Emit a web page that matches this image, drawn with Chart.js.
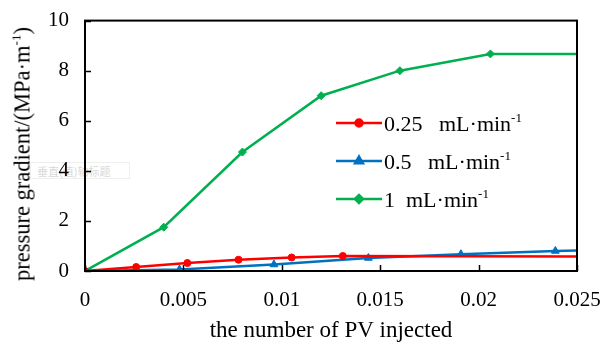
<!DOCTYPE html>
<html>
<head>
<meta charset="utf-8">
<script src="https://cdn.jsdelivr.net/npm/chart.js@4"></script>
<style>
    body { margin: 0; background: #fff; }
    #wrap { position: relative; width: 610px; height: 343px; font-family: "Liberation Serif", "Times New Roman", serif; }
    #chart { position: absolute; left: 0; top: 0; }
    .ghost { position: absolute; left: 30px; top: 162px; width: 100px; height: 17px; border: 1px solid #eee;
        color: #d8d8d8; font: 11px "Noto Sans CJK SC", sans-serif; line-height: 17px; padding-left: 6px; box-sizing: border-box; }
    .ytitle { position: absolute; left: 22px; top: 154px; transform: translate(-50%, -50%) rotate(-90deg);
        font-size: 22.5px; white-space: nowrap; color: #000; }
    .legend { position: absolute; left: 336px; top: 104px; font-size: 22px; color: #000; }
    .legend .row { height: 38px; display: flex; align-items: center; white-space: pre; }
    .legend .sw { width: 46px; height: 14px; position: relative; margin-right: 2px; }
    sup { font-size: 13px; vertical-align: 9px; }
</style>
</head>
<body>
<div id="wrap">
    <div class="ghost">垂直(值)轴标题</div>
    <canvas id="chart" width="610" height="343"></canvas>
    <div class="ytitle">pressure gradient/(MPa·m<sup>-1</sup>)</div>
    <div class="legend" id="legend"></div>
</div>
<script>
const seriesLabels = ["0.25   mL·min", "0.5   mL·min", "1  mL·min"];
const seriesColors = ["#ff0000", "#0070c0", "#00b050"];
const seriesMarkers = ["circle", "triangle", "rectRot"];
const markerSizes = [3.5, 4.5, 4];

const pvRed = [0, 0.0026, 0.0052, 0.0078, 0.0105, 0.0131, 0.025];
const gradRed = [0, 0.16, 0.32, 0.45, 0.54, 0.6, 0.58];

const pvBlue = [0, 0.0048, 0.0096, 0.0144, 0.0191, 0.0239, 0.025];
const gradBlue = [0, 0.06, 0.26, 0.52, 0.67, 0.8, 0.82];

const pvGreen = [0, 0.004, 0.008, 0.012, 0.016, 0.0206, 0.025];
const gradGreen = [0, 1.75, 4.75, 7.0, 8.0, 8.67, 8.67];

const xTicks = [0, 0.005, 0.01, 0.015, 0.02, 0.025];
const yTicks = [0, 2, 4, 6, 8, 10];

const xs = [pvRed, pvBlue, pvGreen];
const ys = [gradRed, gradBlue, gradGreen];

const FONT = "Liberation Serif";

// last point only continues the line to the axis edge, no marker
const datasets = seriesLabels.map((label, i) => ({
    label,
    data: xs[i].map((x, k) => ({ x, y: ys[i][k] })),
    borderColor: seriesColors[i],
    backgroundColor: seriesColors[i],
    borderWidth: 2.5,
    pointStyle: seriesMarkers[i],
    pointBorderWidth: 1,
    pointRadius: xs[i].map((x, k) => (k === xs[i].length - 1 ? 0 : markerSizes[i])),
    tension: 0,
}));

const frame = {
    id: "frame",
    afterDraw(chart) {
        const { ctx, chartArea: a, scales } = chart;
        ctx.save();
        ctx.strokeStyle = "#000";
        ctx.lineWidth = 2;
        ctx.strokeRect(a.left, a.top, a.right - a.left, a.bottom - a.top);
        ctx.lineWidth = 1.5;
        ctx.beginPath();
        for (const v of xTicks) {
            const px = Math.round(scales.x.getPixelForValue(v)) + 0.5;
            ctx.moveTo(px, a.bottom);
            ctx.lineTo(px, a.bottom - 6);
        }
        for (const v of yTicks) {
            const py = Math.round(scales.y.getPixelForValue(v)) + 0.5;
            ctx.moveTo(a.left, py);
            ctx.lineTo(a.left + 6, py);
        }
        ctx.stroke();
        ctx.restore();
    },
};

new Chart(document.getElementById("chart"), {
    type: "line",
    data: { datasets },
    options: {
        responsive: false,
        animation: false,
        layout: { padding: { top: 17, right: 33, left: 0, bottom: 0 } },
        plugins: { legend: { display: false }, tooltip: { enabled: false } },
        scales: {
            x: {
                type: "linear",
                min: 0,
                max: 0.025,
                afterBuildTicks: (s) => { s.ticks = xTicks.map((value) => ({ value })); },
                afterFit: (s) => { s.height = 72; },
                grid: { display: false },
                border: { display: false },
                ticks: {
                    color: "#000",
                    font: { family: FONT, size: 21 },
                    padding: 9,
                    maxRotation: 0,
                    callback: (v) => String(+v.toFixed(3)),
                },
                title: {
                    display: true,
                    text: "the number of PV injected",
                    color: "#000",
                    font: { family: FONT, size: 23 },
                    padding: { top: 4, bottom: -2 },
                },
            },
            y: {
                min: 0,
                max: 10,
                afterBuildTicks: (s) => { s.ticks = yTicks.map((value) => ({ value })); },
                afterFit: (s) => { s.width = 85; },
                grid: { display: false },
                border: { display: false },
                ticks: {
                    color: "#000",
                    font: { family: FONT, size: 21 },
                    padding: 8,
                },
            },
        },
    },
    plugins: [frame],
});

// legend: line with marker, then label with superscript
const legendEl = document.getElementById("legend");
seriesLabels.forEach((label, i) => {
    const row = document.createElement("div");
    row.className = "row";
    const sw = document.createElement("canvas");
    sw.className = "sw";
    sw.width = 46;
    sw.height = 14;
    const c = sw.getContext("2d");
    c.strokeStyle = seriesColors[i];
    c.fillStyle = seriesColors[i];
    c.lineWidth = 2.5;
    c.beginPath();
    c.moveTo(0, 7);
    c.lineTo(46, 7);
    c.stroke();
    Chart.helpers.drawPoint(c, { pointStyle: seriesMarkers[i], radius: markerSizes[i], borderWidth: 1 }, 23, 7);
    row.appendChild(sw);
    const txt = document.createElement("span");
    txt.innerHTML = label + "<sup>-1</sup>";
    row.appendChild(txt);
    legendEl.appendChild(row);
});
</script>
</body>
</html>
